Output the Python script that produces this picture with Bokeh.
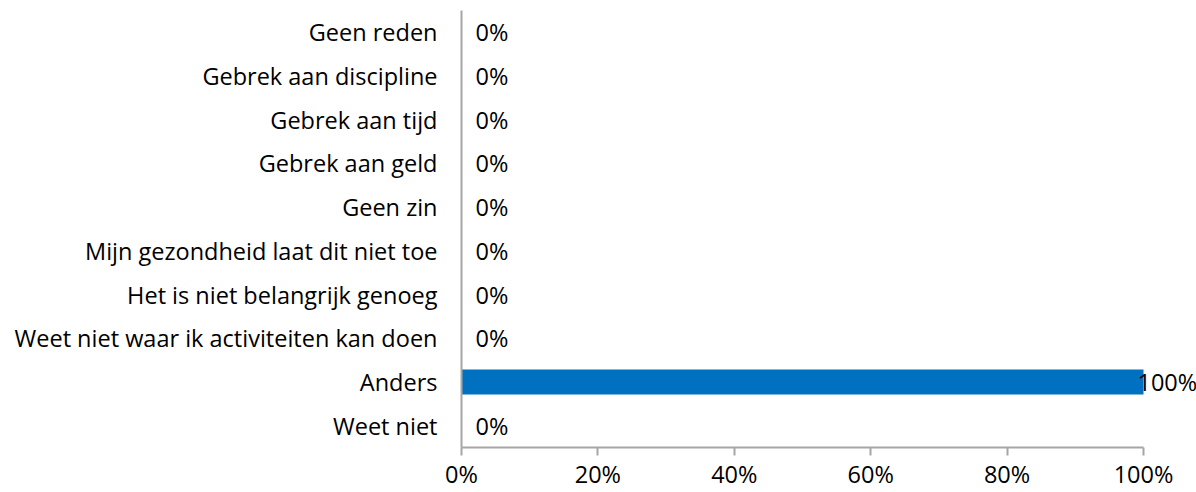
from bokeh.plotting import figure
from bokeh.models import FactorRange, Range1d, FixedTicker, PrintfTickFormatter, ColumnDataSource, LabelSet
from bokeh.core.properties import value
from bokeh.embed import file_html
from bokeh.resources import INLINE

categories = ["Geen reden", "Gebrek aan discipline", "Gebrek aan tijd", "Gebrek aan geld",
              "Geen zin", "Mijn gezondheid laat dit niet toe", "Het is niet belangrijk genoeg",
              "Weet niet waar ik activiteiten kan doen", "Anders", "Weet niet"]
values = [0, 0, 0, 0, 0, 0, 0, 0, 100, 0]
x_ticks = [0, 20, 40, 60, 80, 100]

FONT = "Open Sans"
FS = "23.5px"

# layout (pixels)
W, H = 1196, 492
LEFT, TOP, BOTTOM = 461, 10, 45
AXIS_W = 682  # pixel length of 0..100 axis
x_end = x_ticks[-1] * (W - LEFT) / AXIS_W

labels = [f"{v}%" for v in values]
offsets = [-6 if v >= 100 else 14 for v in values]
src = ColumnDataSource(dict(cat=categories, val=values, lab=labels, off=offsets))

p = figure(width=W, height=H, output_backend="svg", toolbar_location=None,
           y_range=FactorRange(factors=list(reversed(categories)), range_padding=0),
           x_range=Range1d(0, x_end),
           min_border_left=LEFT, min_border_right=0, min_border_top=TOP, min_border_bottom=BOTTOM)

p.hbar(y="cat", right="val", left=0, height=0.57, source=src, color="#0070C0", line_color=None)

ls = LabelSet(x="val", y="cat", text="lab", x_offset="off", source=src,
              text_font=value(FONT), text_font_size=value(FS), text_color="#000000",
              text_align="left", text_baseline="middle")
p.add_layout(ls)

p.outline_line_color = None
p.xgrid.grid_line_color = None
p.ygrid.grid_line_color = None

p.xaxis.ticker = FixedTicker(ticks=x_ticks)
p.xaxis.bounds = (x_ticks[0], x_ticks[-1])
p.xaxis.formatter = PrintfTickFormatter(format="%d%%")
p.xaxis.axis_line_color = "#A6A6A6"
p.xaxis.axis_line_width = 2
p.xaxis.major_tick_line_color = "#A6A6A6"
p.xaxis.major_tick_line_width = 2
p.xaxis.major_tick_out = 8
p.xaxis.major_tick_in = 0
p.xaxis.minor_tick_line_color = None
p.xaxis.major_label_standoff = 2

p.yaxis.axis_line_color = "#A6A6A6"
p.yaxis.axis_line_width = 2
p.yaxis.major_tick_line_color = None
p.yaxis.major_tick_out = 0
p.yaxis.major_label_standoff = 24

for ax in (p.xaxis, p.yaxis):
    ax.major_label_text_font = FONT
    ax.major_label_text_font_size = FS
    ax.major_label_text_color = "#000000"

open("out.html", "w").write(file_html(p, INLINE))
